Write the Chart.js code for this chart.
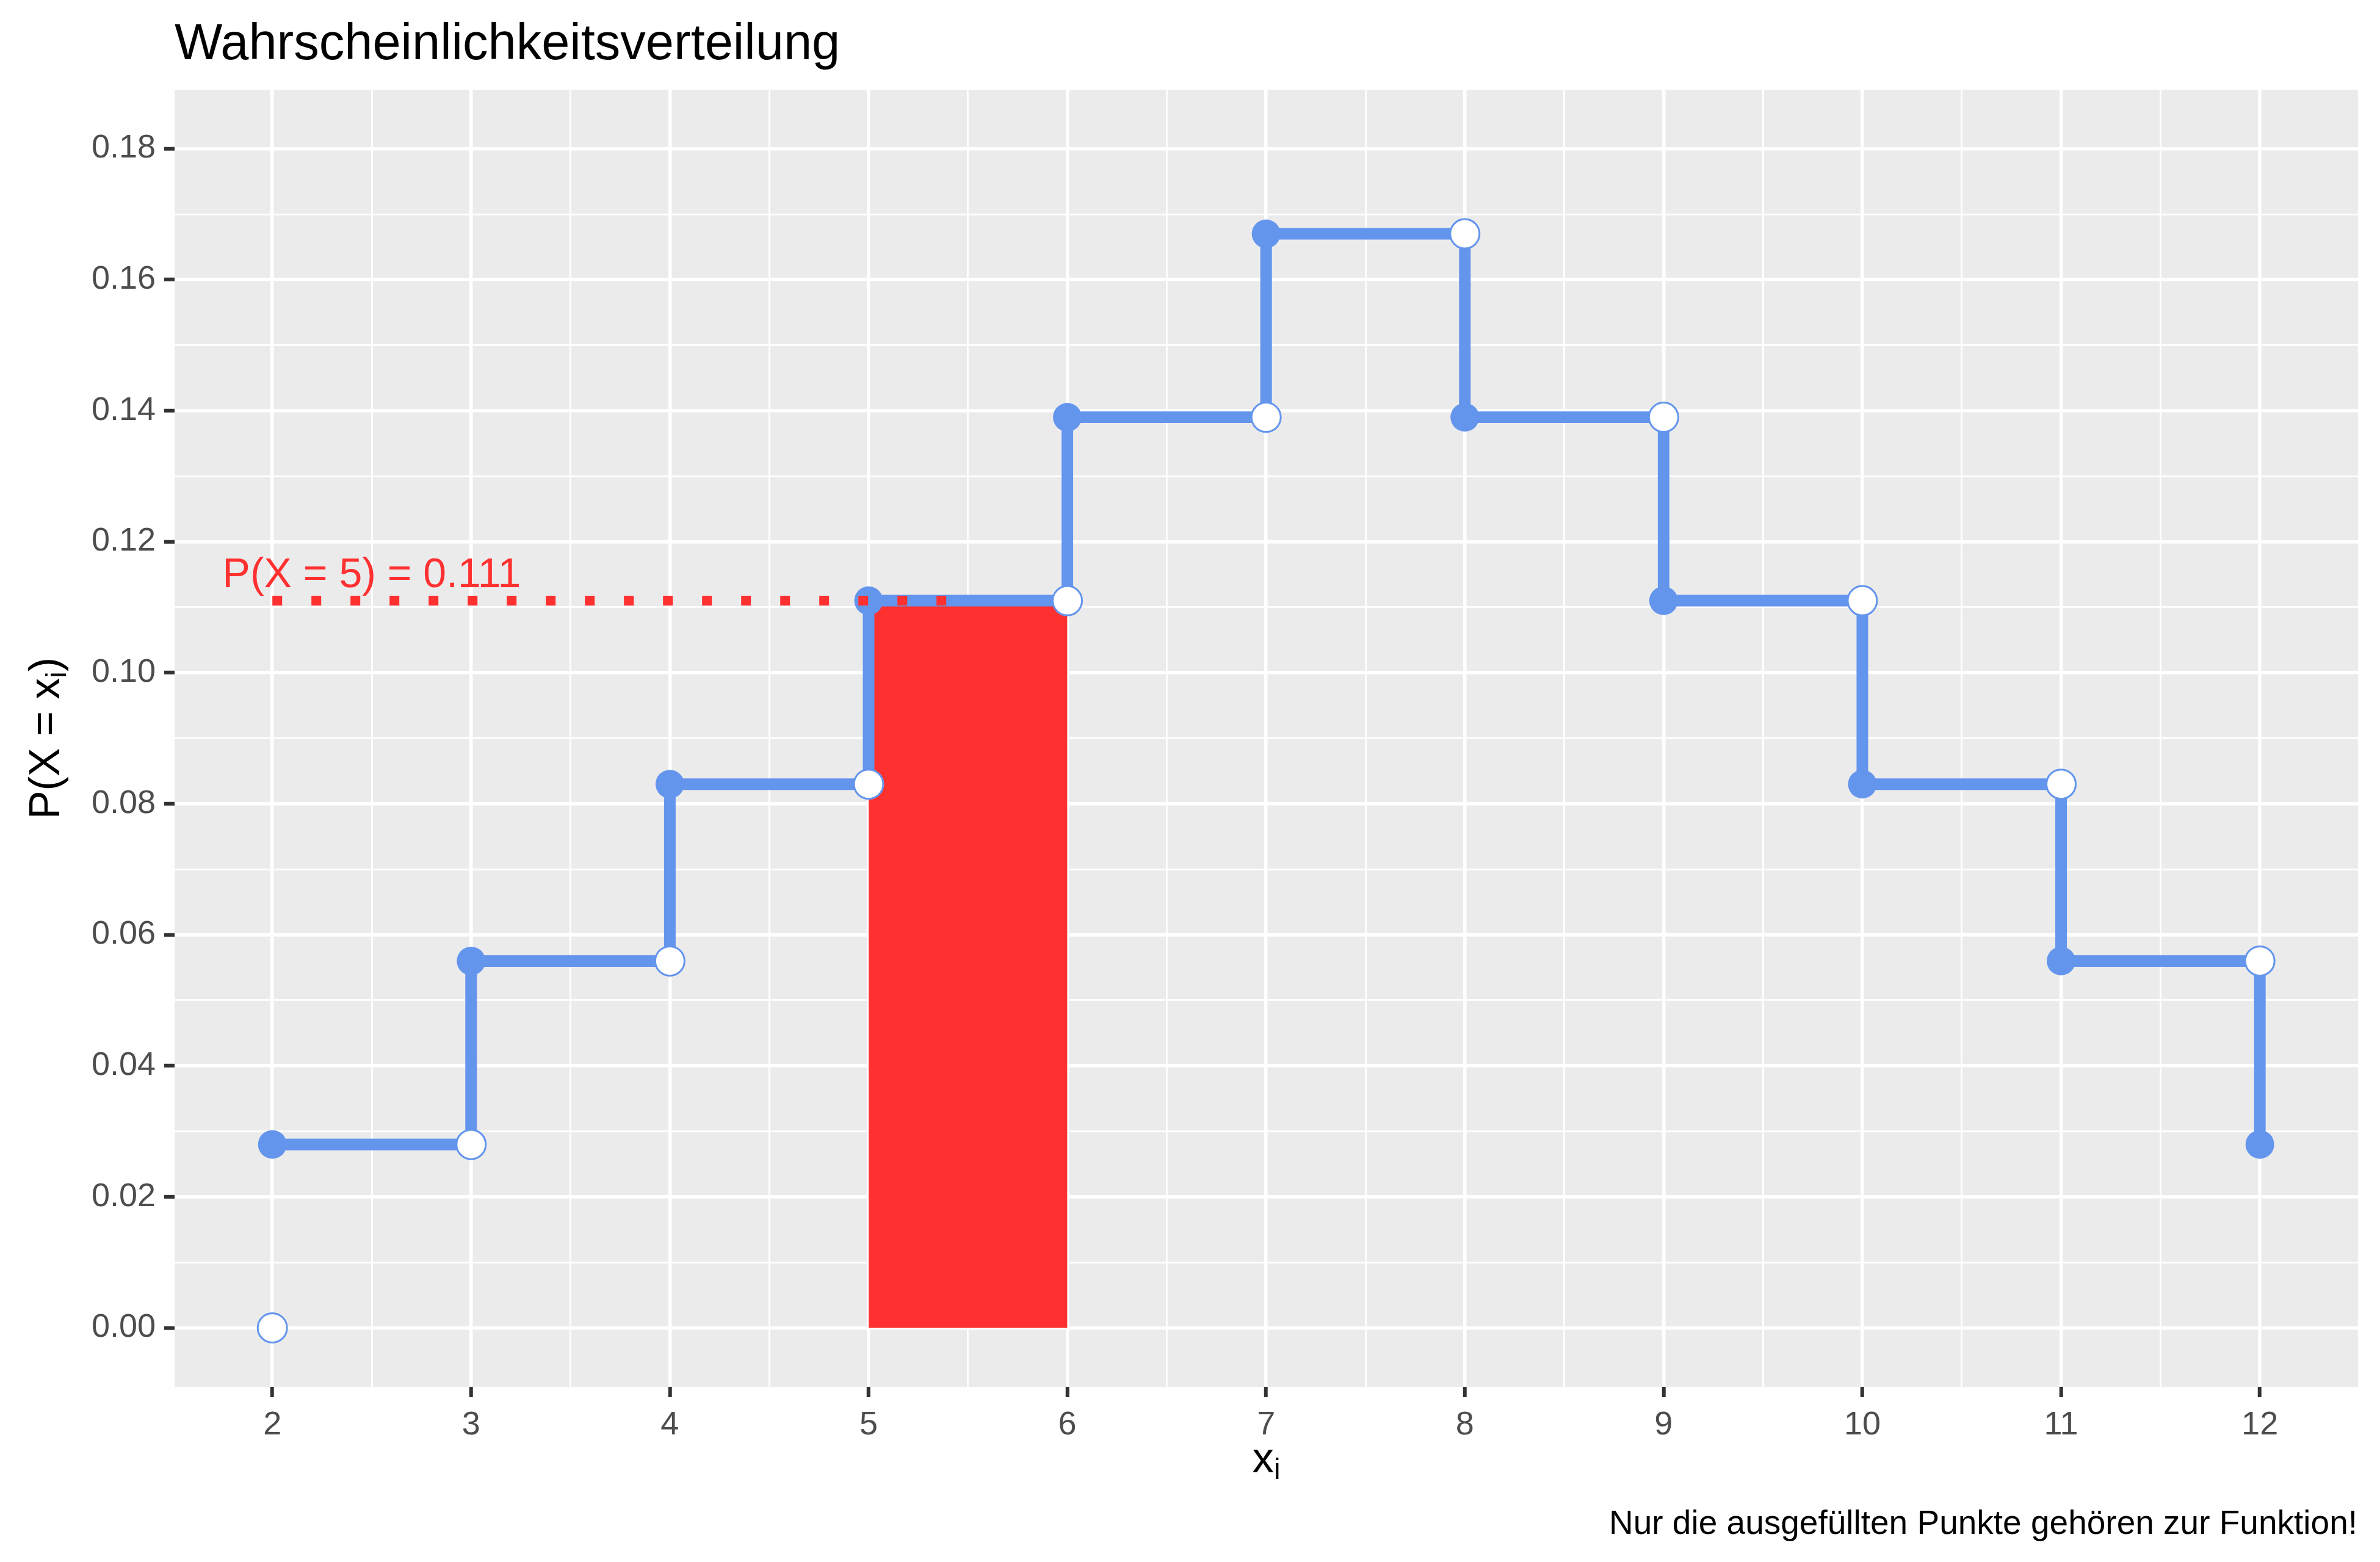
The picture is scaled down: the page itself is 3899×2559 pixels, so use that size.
<!DOCTYPE html>
<html>
<head>
<meta charset="utf-8">
<script src="https://cdn.jsdelivr.net/npm/chart.js@4"></script>
<style>
html,body{margin:0;padding:0;background:#fff;}
canvas{display:block;}
</style>
</head>
<body>
<canvas id="chart" width="3899" height="2559"></canvas>
<script>
// Augensumme zweier Wuerfel
const xWerte = [2, 3, 4, 5, 6, 7, 8, 9, 10, 11, 12];
const pWerte = [0.028, 0.056, 0.083, 0.111, 0.139, 0.167, 0.139, 0.111, 0.083, 0.056, 0.028];
// offene Punkte (gehoeren nicht zur Funktion)
const offenX = [2, 3, 4, 5, 6, 7, 8, 9, 10, 11, 12];
const offenY = [0, 0.028, 0.056, 0.083, 0.111, 0.139, 0.167, 0.139, 0.111, 0.083, 0.056];
// markierter Balken bei x = 5
const balkenX = [5, 6];
const balkenY = [0.111, 0.111];
// gepunktete Hilfslinie
const hilfX = [2, 5.5];
const hilfY = [0.111, 0.111];
// Achsen
const xTicks = [2, 3, 4, 5, 6, 7, 8, 9, 10, 11, 12];
const yTicks = [0, 0.02, 0.04, 0.06, 0.08, 0.10, 0.12, 0.14, 0.16, 0.18];
const yTickLabels = ['0.00', '0.02', '0.04', '0.06', '0.08', '0.10', '0.12', '0.14', '0.16', '0.18'];
// Beschriftung
const titel = 'Wahrscheinlichkeitsverteilung';
const fussnote = 'Nur die ausgefüllten Punkte gehören zur Funktion!';
const annoX = 2.5, annoY = 0.111, annoText = 'P(X = 5) = 0.111';

const BLAU = '#6495ED';
const ROT = '#FF3030';
const SCHRIFT = '"Liberation Sans", Arial, sans-serif';

function punkte(xs, ys){ return xs.map((x, i) => ({x: x, y: ys[i]})); }

// Nebenlinien jeweils in der Mitte zwischen den Hauptlinien
function mitNeben(haupt){
  const alle = haupt.slice();
  for (let i = 0; i < haupt.length - 1; i++) alle.push(Math.round((haupt[i] + haupt[i+1]) / 2 * 1000) / 1000);
  return alle.sort((a, b) => a - b);
}
function istHaupt(haupt, v){ return haupt.some(h => Math.abs(h - v) < 1e-9); }

// Text mit tiefgestelltem Index
function zeichneIndex(ctx, teile, x, y, groesse){
  let breite = 0;
  teile.forEach(t => {
    ctx.font = (t.sub ? groesse * 0.67 : groesse) + 'px ' + SCHRIFT;
    t.w = ctx.measureText(t.t).width;
    breite += t.w;
  });
  let px = x - breite / 2;
  teile.forEach(t => {
    ctx.font = (t.sub ? groesse * 0.67 : groesse) + 'px ' + SCHRIFT;
    ctx.fillText(t.t, px, t.sub ? y + groesse * 0.155 : y);
    px += t.w;
  });
}

const hintergrund = {
  id: 'hintergrund',
  beforeDraw(chart){
    const {ctx, chartArea: a} = chart;
    ctx.save();
    ctx.fillStyle = '#fff';
    ctx.fillRect(0, 0, chart.width, chart.height);
    ctx.fillStyle = '#EBEBEB';
    ctx.fillRect(a.left, a.top, a.right - a.left, a.bottom - a.top);
    ctx.restore();
  }
};

const texte = {
  id: 'texte',
  afterDraw(chart){
    const {ctx, chartArea: a, scales} = chart;
    ctx.save();
    ctx.fillStyle = '#000';
    ctx.textBaseline = 'alphabetic';
    // Titel
    ctx.textAlign = 'left';
    ctx.font = '83px ' + SCHRIFT;
    ctx.fillText(titel, a.left, 97);
    // Fussnote
    ctx.textAlign = 'right';
    ctx.font = '55px ' + SCHRIFT;
    ctx.fillText(fussnote, a.right - 1, 2513);
    // x-Achse
    ctx.textAlign = 'left';
    zeichneIndex(ctx, [{t: 'x'}, {t: 'i', sub: true}], (a.left + a.right) / 2, 2412, 71);
    // y-Achse
    ctx.save();
    ctx.translate(97, (a.top + a.bottom) / 2);
    ctx.rotate(-Math.PI / 2);
    zeichneIndex(ctx, [{t: 'P(X = x'}, {t: 'i', sub: true}, {t: ')'}], 0, 0, 70);
    ctx.restore();
    // Annotation
    ctx.fillStyle = ROT;
    ctx.textAlign = 'center';
    ctx.font = '68px ' + SCHRIFT;
    ctx.fillText(annoText, scales.x.getPixelForValue(annoX), scales.y.getPixelForValue(annoY) - 22);
    ctx.restore();
  }
};

new Chart(document.getElementById('chart'), {
  type: 'line',
  data: {
    datasets: [
      { // gepunktete Linie
        data: punkte(hilfX, hilfY),
        borderColor: ROT,
        borderWidth: 16,
        borderDash: [16, 48],
        borderCapStyle: 'butt',
        pointRadius: 0,
        fill: false,
        order: 0
      },
      { // offene Punkte
        data: punkte(offenX, offenY),
        showLine: false,
        pointRadius: 24,
        pointBackgroundColor: '#fff',
        pointBorderColor: BLAU,
        pointBorderWidth: 3,
        order: 1
      },
      { // Treppenfunktion
        data: punkte(xWerte, pWerte),
        stepped: 'before',
        borderColor: BLAU,
        borderWidth: 19,
        borderCapStyle: 'butt',
        borderJoinStyle: 'miter',
        pointRadius: 23.5,
        pointBackgroundColor: BLAU,
        pointBorderWidth: 0,
        fill: false,
        order: 2
      },
      { // Balken P(X = 5)
        data: punkte(balkenX, balkenY),
        borderWidth: 0,
        borderColor: 'rgba(0,0,0,0)',
        backgroundColor: ROT,
        pointRadius: 0,
        fill: 'origin',
        order: 3
      }
    ]
  },
  options: {
    responsive: false,
    devicePixelRatio: 1,
    animation: false,
    layout: { padding: { top: 147, right: 36, left: 0, bottom: 0 } },
    plugins: {
      legend: { display: false },
      tooltip: { enabled: false },
      title: { display: false }
    },
    scales: {
      x: {
        type: 'linear',
        min: 1.508,
        max: 12.494,
        afterBuildTicks: s => { s.ticks = mitNeben(xTicks).map(v => ({value: v})); },
        afterFit: s => { s.height = 287; },
        border: { display: false },
        grid: {
          color: '#fff',
          lineWidth: c => istHaupt(xTicks, c.tick.value) ? 5.5 : 2.8,
          tickColor: c => istHaupt(xTicks, c.tick.value) ? '#333333' : 'rgba(0,0,0,0)',
          tickWidth: 6,
          tickLength: 17
        },
        ticks: {
          autoSkip: false,
          maxRotation: 0,
          padding: 14,
          color: '#4D4D4D',
          font: { family: SCHRIFT, size: 54 },
          callback: v => istHaupt(xTicks, v) ? String(v) : ''
        }
      },
      y: {
        type: 'linear',
        min: -0.009,
        max: 0.189,
        afterBuildTicks: s => { s.ticks = mitNeben(yTicks).map(v => ({value: v})); },
        afterFit: s => { s.width = 286; },
        border: { display: false },
        grid: {
          color: '#fff',
          lineWidth: c => istHaupt(yTicks, c.tick.value) ? 5.5 : 2.8,
          tickColor: c => istHaupt(yTicks, c.tick.value) ? '#333333' : 'rgba(0,0,0,0)',
          tickWidth: 6,
          tickLength: 17
        },
        ticks: {
          autoSkip: false,
          padding: 14,
          color: '#4D4D4D',
          font: { family: SCHRIFT, size: 54 },
          callback: v => {
            const i = yTicks.findIndex(h => Math.abs(h - v) < 1e-9);
            return i >= 0 ? yTickLabels[i] : '';
          }
        }
      }
    }
  },
  plugins: [hintergrund, texte]
});
</script>
</body>
</html>
